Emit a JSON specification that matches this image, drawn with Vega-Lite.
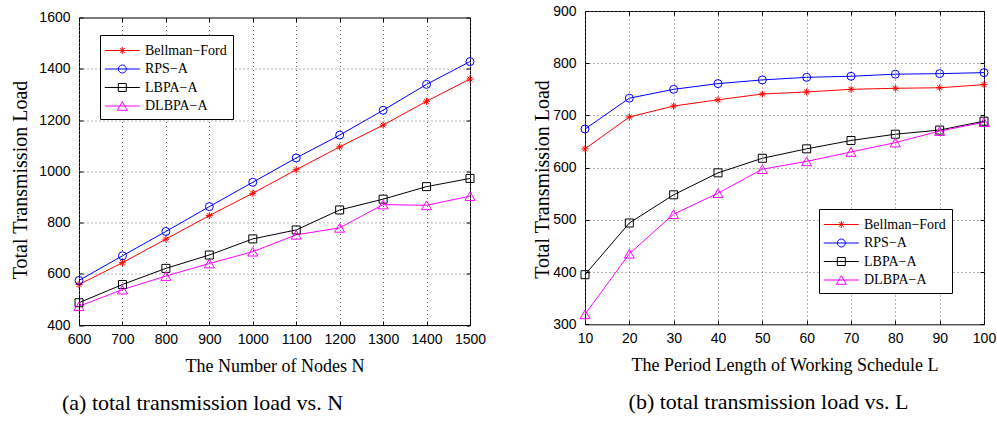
{
  "$schema": "https://vega.github.io/schema/vega-lite/v6.json",
  "background": "white",
  "padding": {"left": 10, "top": 3, "right": 5, "bottom": 5},
  "spacing": 45,
  "resolve": {"scale": {"color": "independent", "shape": "independent", "stroke": "independent"}, "legend": {"color": "independent", "shape": "independent"}},
  "datasets": {
    "a": [
      {"x": 600, "y": 558, "series": "Bellman−Ford"},
      {"x": 700, "y": 643, "series": "Bellman−Ford"},
      {"x": 800, "y": 735, "series": "Bellman−Ford"},
      {"x": 900, "y": 827, "series": "Bellman−Ford"},
      {"x": 1000, "y": 914, "series": "Bellman−Ford"},
      {"x": 1100, "y": 1006, "series": "Bellman−Ford"},
      {"x": 1200, "y": 1095, "series": "Bellman−Ford"},
      {"x": 1300, "y": 1180, "series": "Bellman−Ford"},
      {"x": 1400, "y": 1273, "series": "Bellman−Ford"},
      {"x": 1500, "y": 1360, "series": "Bellman−Ford"},
      {"x": 600, "y": 574, "series": "RPS−A"},
      {"x": 700, "y": 670, "series": "RPS−A"},
      {"x": 800, "y": 765, "series": "RPS−A"},
      {"x": 900, "y": 862, "series": "RPS−A"},
      {"x": 1000, "y": 957, "series": "RPS−A"},
      {"x": 1100, "y": 1052, "series": "RPS−A"},
      {"x": 1200, "y": 1141, "series": "RPS−A"},
      {"x": 1300, "y": 1238, "series": "RPS−A"},
      {"x": 1400, "y": 1339, "series": "RPS−A"},
      {"x": 1500, "y": 1428, "series": "RPS−A"},
      {"x": 600, "y": 487, "series": "LBPA−A"},
      {"x": 700, "y": 558, "series": "LBPA−A"},
      {"x": 800, "y": 621, "series": "LBPA−A"},
      {"x": 900, "y": 673, "series": "LBPA−A"},
      {"x": 1000, "y": 736, "series": "LBPA−A"},
      {"x": 1100, "y": 771, "series": "LBPA−A"},
      {"x": 1200, "y": 849, "series": "LBPA−A"},
      {"x": 1300, "y": 891, "series": "LBPA−A"},
      {"x": 1400, "y": 940, "series": "LBPA−A"},
      {"x": 1500, "y": 972, "series": "LBPA−A"},
      {"x": 600, "y": 473, "series": "DLBPA−A"},
      {"x": 700, "y": 538, "series": "DLBPA−A"},
      {"x": 800, "y": 591, "series": "DLBPA−A"},
      {"x": 900, "y": 640, "series": "DLBPA−A"},
      {"x": 1000, "y": 686, "series": "DLBPA−A"},
      {"x": 1100, "y": 752, "series": "DLBPA−A"},
      {"x": 1200, "y": 779, "series": "DLBPA−A"},
      {"x": 1300, "y": 870, "series": "DLBPA−A"},
      {"x": 1400, "y": 867, "series": "DLBPA−A"},
      {"x": 1500, "y": 903, "series": "DLBPA−A"}
    ],
    "b": [
      {"x": 10, "y": 636, "series": "Bellman−Ford"},
      {"x": 20, "y": 697, "series": "Bellman−Ford"},
      {"x": 30, "y": 718, "series": "Bellman−Ford"},
      {"x": 40, "y": 730, "series": "Bellman−Ford"},
      {"x": 50, "y": 741, "series": "Bellman−Ford"},
      {"x": 60, "y": 745, "series": "Bellman−Ford"},
      {"x": 70, "y": 750, "series": "Bellman−Ford"},
      {"x": 80, "y": 752, "series": "Bellman−Ford"},
      {"x": 90, "y": 753, "series": "Bellman−Ford"},
      {"x": 100, "y": 759, "series": "Bellman−Ford"},
      {"x": 10, "y": 674, "series": "RPS−A"},
      {"x": 20, "y": 733, "series": "RPS−A"},
      {"x": 30, "y": 750, "series": "RPS−A"},
      {"x": 40, "y": 761, "series": "RPS−A"},
      {"x": 50, "y": 768, "series": "RPS−A"},
      {"x": 60, "y": 773, "series": "RPS−A"},
      {"x": 70, "y": 775, "series": "RPS−A"},
      {"x": 80, "y": 779, "series": "RPS−A"},
      {"x": 90, "y": 780, "series": "RPS−A"},
      {"x": 100, "y": 782, "series": "RPS−A"},
      {"x": 10, "y": 395, "series": "LBPA−A"},
      {"x": 20, "y": 494, "series": "LBPA−A"},
      {"x": 30, "y": 548, "series": "LBPA−A"},
      {"x": 40, "y": 590, "series": "LBPA−A"},
      {"x": 50, "y": 618, "series": "LBPA−A"},
      {"x": 60, "y": 636, "series": "LBPA−A"},
      {"x": 70, "y": 652, "series": "LBPA−A"},
      {"x": 80, "y": 664, "series": "LBPA−A"},
      {"x": 90, "y": 672, "series": "LBPA−A"},
      {"x": 100, "y": 689, "series": "LBPA−A"},
      {"x": 10, "y": 319, "series": "DLBPA−A"},
      {"x": 20, "y": 435, "series": "DLBPA−A"},
      {"x": 30, "y": 511, "series": "DLBPA−A"},
      {"x": 40, "y": 551, "series": "DLBPA−A"},
      {"x": 50, "y": 597, "series": "DLBPA−A"},
      {"x": 60, "y": 612, "series": "DLBPA−A"},
      {"x": 70, "y": 630, "series": "DLBPA−A"},
      {"x": 80, "y": 648, "series": "DLBPA−A"},
      {"x": 90, "y": 670, "series": "DLBPA−A"},
      {"x": 100, "y": 687, "series": "DLBPA−A"}
    ]
  },
  "hconcat": [
    {
      "vconcat": [
        {
          "width": 391,
          "height": 1,
          "view": {"stroke": null},
          "data": {"values": []},
          "mark": "point",
          "encoding": {}
        },
        {
          "width": 391,
          "height": 307.5,
          "data": {"name": "a"},
          "title": {"text": "(a) total transmission load vs. N", "orient": "bottom", "anchor": "middle", "dx": -72, "offset": 18, "font": "Liberation Serif", "fontSize": 22, "fontWeight": "normal", "color": "black"},
          "resolve": {"axis": {"x": "independent", "y": "independent"}},
          "layer": [
            {
              "mark": {"type": "line", "strokeWidth": 1},
              "encoding": {
                "x": {"field": "x", "type": "quantitative", "scale": {"domain": [600, 1500], "nice": false, "zero": false},
                      "axis": {"orient": "bottom", "values": [600, 700, 800, 900, 1000, 1100, 1200, 1300, 1400, 1500], "format": "d", "title": "The Number of Nodes N", "grid": true}},
                "y": {"field": "y", "type": "quantitative", "scale": {"domain": [400, 1600], "nice": false, "zero": false},
                      "axis": {"orient": "left", "values": [400, 600, 800, 1000, 1200, 1400, 1600], "format": "d", "title": "Total Transmission Load", "titlePadding": 8, "titleY": 162, "labelPadding": 13, "grid": true}},
                "stroke": {"field": "series", "type": "nominal", "legend": null,
                          "scale": {"domain": ["DLBPA−A", "LBPA−A", "RPS−A", "Bellman−Ford"], "range": ["#ff00ff", "#000000", "#0000ff", "#ff0000"]}}
              }
            },
            {
              "transform": [{"filter": {"field": "series", "equal": "Bellman−Ford"}}],
              "mark": {"type": "point", "shape": "M-1,0H1M0,-1V1M-0.7,-0.7L0.7,0.7M-0.7,0.7L0.7,-0.7", "size": 49, "filled": false, "color": "#ff0000", "opacity": 1, "strokeWidth": 1},
              "encoding": {
                "x": {"field": "x", "type": "quantitative", "axis": {"orient": "top", "values": [600, 700, 800, 900, 1000, 1100, 1200, 1300, 1400, 1500], "labels": false, "title": null, "grid": false}},
                "y": {"field": "y", "type": "quantitative", "axis": {"orient": "right", "values": [400, 600, 800, 1000, 1200, 1400, 1600], "labels": false, "title": null, "grid": false}}
              }
            },
            {
              "transform": [{"filter": {"field": "series", "equal": "RPS−A"}}],
              "mark": {"type": "point", "shape": "circle", "size": 64, "filled": false, "color": "#0000ff", "opacity": 1, "strokeWidth": 1},
              "encoding": {
                "x": {"field": "x", "type": "quantitative", "axis": null},
                "y": {"field": "y", "type": "quantitative", "axis": null}
              }
            },
            {
              "transform": [{"filter": {"field": "series", "equal": "LBPA−A"}}],
              "mark": {"type": "point", "shape": "square", "size": 64, "filled": false, "color": "#000000", "opacity": 1, "strokeWidth": 1},
              "encoding": {
                "x": {"field": "x", "type": "quantitative", "axis": null},
                "y": {"field": "y", "type": "quantitative", "axis": null}
              }
            },
            {
              "transform": [{"filter": {"field": "series", "equal": "DLBPA−A"}}],
              "mark": {"type": "point", "shape": "triangle-up", "size": 100, "filled": false, "color": "#ff00ff", "opacity": 1, "strokeWidth": 1},
              "encoding": {
                "x": {"field": "x", "type": "quantitative", "axis": null},
                "y": {"field": "y", "type": "quantitative", "axis": null}
              }
            },
            {
              "transform": [{"filter": {"field": "x", "lt": 0}}],
              "mark": {"type": "point", "filled": false, "opacity": 1},
              "encoding": {
                "x": {"field": "x", "type": "quantitative", "axis": null},
                "y": {"field": "y", "type": "quantitative", "axis": null},
                "color": {"field": "series", "type": "nominal",
                          "legend": {"orient": "none", "legendX": 21, "legendY": 17.5, "title": null},
                          "scale": {"domain": ["Bellman−Ford", "RPS−A", "LBPA−A", "DLBPA−A"], "range": ["#ff0000", "#0000ff", "#000000", "#ff00ff"]}},
                "shape": {"field": "series", "type": "nominal",
                          "legend": {"orient": "none", "legendX": 21, "legendY": 17.5, "title": null},
                          "scale": {"domain": ["Bellman−Ford", "RPS−A", "LBPA−A", "DLBPA−A"],
                                    "range": [
                                      "M-1.19,0H2.7M0.366,0H1.144M0.755,-0.389V0.389M0.48,-0.275L1.03,0.275M0.48,0.275L1.03,-0.275",
                                      "M-1.19,0H2.7M0.311,0A0.444,0.444 0 1,0 1.199,0A0.444,0.444 0 1,0 0.311,0",
                                      "M-1.19,0H2.7M0.311,-0.444H1.199V0.444H0.311Z",
                                      "M-1.19,0H2.7M0.755,-0.481L1.311,0.481H0.199Z"]}}
              }
            }
          ]
        }
      ],
      "spacing": 5.5,
      "bounds": "flush",
      "resolve": {"scale": {"color": "independent", "shape": "independent", "stroke": "independent"}, "legend": {"color": "independent", "shape": "independent"}}
    },
    {
      "width": 399,
      "height": 313.3,
      "data": {"name": "b"},
      "title": {"text": "(b) total transmission load vs. L", "orient": "bottom", "anchor": "middle", "dx": -16, "offset": 18, "font": "Liberation Serif", "fontSize": 22, "fontWeight": "normal", "color": "black"},
      "resolve": {"axis": {"x": "independent", "y": "independent"}},
      "layer": [
        {
          "mark": {"type": "line", "strokeWidth": 1},
          "encoding": {
            "x": {"field": "x", "type": "quantitative", "scale": {"domain": [10, 100], "nice": false, "zero": false},
                  "axis": {"orient": "bottom", "values": [10, 20, 30, 40, 50, 60, 70, 80, 90, 100], "format": "d", "title": "The Period Length of Working Schedule L", "grid": true}},
            "y": {"field": "y", "type": "quantitative", "scale": {"domain": [300, 900], "nice": false, "zero": false},
                  "axis": {"orient": "left", "values": [300, 400, 500, 600, 700, 800, 900], "format": "d", "title": "Total Transmission Load", "titlePadding": 0, "titleY": 168, "labelPadding": 13, "grid": true}},
            "stroke": {"field": "series", "type": "nominal", "legend": null,
                      "scale": {"domain": ["DLBPA−A", "LBPA−A", "RPS−A", "Bellman−Ford"], "range": ["#ff00ff", "#000000", "#0000ff", "#ff0000"]}}
          }
        },
        {
          "transform": [{"filter": {"field": "series", "equal": "Bellman−Ford"}}],
          "mark": {"type": "point", "shape": "M-1,0H1M0,-1V1M-0.7,-0.7L0.7,0.7M-0.7,0.7L0.7,-0.7", "size": 49, "filled": false, "color": "#ff0000", "opacity": 1, "strokeWidth": 1},
          "encoding": {
            "x": {"field": "x", "type": "quantitative", "axis": {"orient": "top", "values": [10, 20, 30, 40, 50, 60, 70, 80, 90, 100], "labels": false, "title": null, "grid": false}},
            "y": {"field": "y", "type": "quantitative", "axis": {"orient": "right", "values": [300, 400, 500, 600, 700, 800, 900], "labels": false, "title": null, "grid": false}}
          }
        },
        {
          "transform": [{"filter": {"field": "series", "equal": "RPS−A"}}],
          "mark": {"type": "point", "shape": "circle", "size": 64, "filled": false, "color": "#0000ff", "opacity": 1, "strokeWidth": 1},
          "encoding": {
            "x": {"field": "x", "type": "quantitative", "axis": null},
            "y": {"field": "y", "type": "quantitative", "axis": null}
          }
        },
        {
          "transform": [{"filter": {"field": "series", "equal": "LBPA−A"}}],
          "mark": {"type": "point", "shape": "square", "size": 64, "filled": false, "color": "#000000", "opacity": 1, "strokeWidth": 1},
          "encoding": {
            "x": {"field": "x", "type": "quantitative", "axis": null},
            "y": {"field": "y", "type": "quantitative", "axis": null}
          }
        },
        {
          "transform": [{"filter": {"field": "series", "equal": "DLBPA−A"}}],
          "mark": {"type": "point", "shape": "triangle-up", "size": 100, "filled": false, "color": "#ff00ff", "opacity": 1, "strokeWidth": 1},
          "encoding": {
            "x": {"field": "x", "type": "quantitative", "axis": null},
            "y": {"field": "y", "type": "quantitative", "axis": null}
          }
        },
        {
          "transform": [{"filter": {"field": "x", "lt": 0}}],
          "mark": {"type": "point", "filled": false, "opacity": 1},
          "encoding": {
            "x": {"field": "x", "type": "quantitative", "axis": null},
            "y": {"field": "y", "type": "quantitative", "axis": null},
            "color": {"field": "series", "type": "nominal",
                      "legend": {"orient": "none", "legendX": 234, "legendY": 198, "title": null},
                      "scale": {"domain": ["Bellman−Ford", "RPS−A", "LBPA−A", "DLBPA−A"], "range": ["#ff0000", "#0000ff", "#000000", "#ff00ff"]}},
            "shape": {"field": "series", "type": "nominal",
                      "legend": {"orient": "none", "legendX": 234, "legendY": 198, "title": null},
                      "scale": {"domain": ["Bellman−Ford", "RPS−A", "LBPA−A", "DLBPA−A"],
                                "range": [
                                  "M-1.19,0H2.7M0.366,0H1.144M0.755,-0.389V0.389M0.48,-0.275L1.03,0.275M0.48,0.275L1.03,-0.275",
                                  "M-1.19,0H2.7M0.311,0A0.444,0.444 0 1,0 1.199,0A0.444,0.444 0 1,0 0.311,0",
                                  "M-1.19,0H2.7M0.311,-0.444H1.199V0.444H0.311Z",
                                  "M-1.19,0H2.7M0.755,-0.481L1.311,0.481H0.199Z"]}}
          }
        }
      ]
    }
  ],
  "config": {
    "view": {"stroke": "black", "strokeWidth": 1},
    "axis": {
      "domain": false,
      "tickSize": -4,
      "tickColor": "black",
      "tickWidth": 1,
      "labelFont": "Liberation Sans",
      "labelFontSize": 14,
      "labelColor": "black",
      "labelPadding": 11,
      "labelFlush": false,
      "labelOverlap": false,
      "labelBound": false,
      "titleFont": "Liberation Serif",
      "titleFontSize": 20,
      "titleFontWeight": "normal",
      "titleColor": "black",
      "titlePadding": 11,
      "gridColor": "#666666",
      "gridDash": [1, 3],
      "gridWidth": 1
    },
    "axisX": {"titleFontSize": 18},
    "legend": {
      "strokeColor": "black",
      "fillColor": "white",
      "padding": 6,
      "cornerRadius": 0,
      "symbolSize": 324,
      "symbolStrokeWidth": 1,
      "symbolOpacity": 1,
      "symbolFillColor": "transparent",
      "labelFont": "Liberation Serif",
      "labelFontSize": 14,
      "labelColor": "black",
      "labelOffset": 20,
      "rowPadding": 1.5,
      "labelLimit": 300
    }
  }
}
